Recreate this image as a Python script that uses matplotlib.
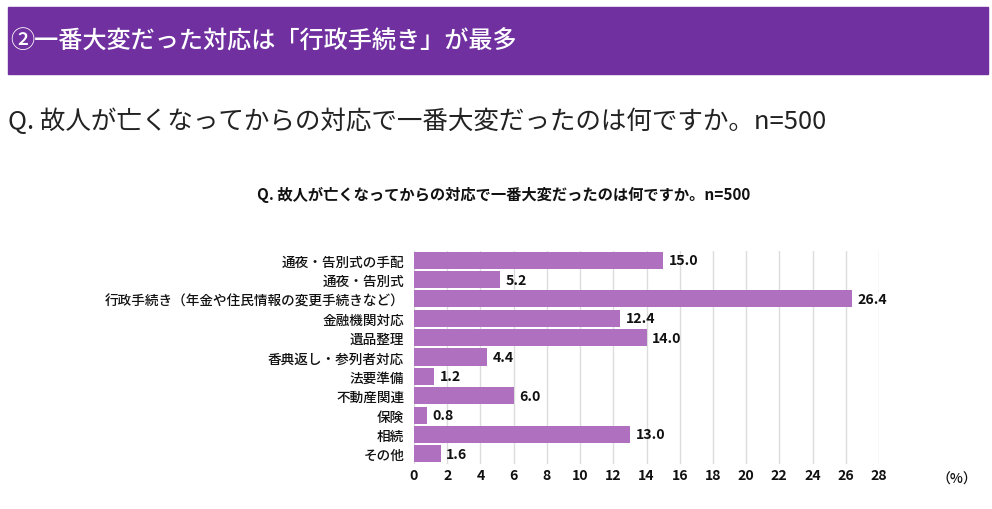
import matplotlib
matplotlib.use("Agg")
import matplotlib.pyplot as plt
from matplotlib.patches import Rectangle

plt.rcParams['font.family'] = ['Noto Sans CJK JP', 'DejaVu Sans']

# --- データ ---
banner_text = "②一番大変だった対応は「行政手続き」が最多"
question = "Q. 故人が亡くなってからの対応で一番大変だったのは何ですか。n=500"
categories = ["通夜・告別式の手配", "通夜・告別式",
              "行政手続き（年金や住民情報の変更手続きなど）", "金融機関対応",
              "遺品整理", "香典返し・参列者対応", "法要準備", "不動産関連",
              "保険", "相続", "その他"]
values = [15.0, 5.2, 26.4, 12.4, 14.0, 4.4, 1.2, 6.0, 0.8, 13.0, 1.6]
xticks = list(range(0, 30, 2))

W, H = 992, 510
fig = plt.figure(figsize=(W / 100, H / 100), dpi=100)

# 上の紫の帯
fig.patches.append(Rectangle((8 / W, 1 - 75 / H), 980 / W, 67 / H,
                             transform=fig.transFigure, color='#7030a0', zorder=0))
fig.text(10 / W, 1 - 42 / H, banner_text, color='white', fontsize=17.4,
         ha='left', va='center', weight='medium')

# 設問
fig.text(8 / W, 1 - 122 / H, question, color='#222222', fontsize=18.4,
         ha='left', va='center')

# グラフタイトル
fig.text(504 / W, 1 - 195 / H, question, color='#111111', fontsize=11,
         ha='center', va='center', weight='bold')

# --- 棒グラフ ---
ax = fig.add_axes([414 / W, 1 - 464.5 / H, 465 / W, 213 / H])
y = list(range(len(categories)))
ax.barh(y, values, height=0.88, color='#b070c0', zorder=2)
ax.set_ylim(len(categories) - 0.5, -0.5)
ax.set_xlim(0, 28)
ax.set_yticks(y)
ax.set_yticklabels(categories, fontsize=9.8, color='#111111', weight='medium')
ax.set_xticks(xticks)
ax.set_xticklabels([str(t) for t in xticks], fontsize=10.2, weight='bold', color='#111111')
ax.tick_params(axis='y', length=0, pad=7)
ax.tick_params(axis='x', length=0, pad=3.5)
ax.grid(axis='x', color='#dcdcdc', linewidth=1, zorder=0)
ax.set_axisbelow(True)
for s in ax.spines.values():
    s.set_visible(False)

for yi, v in zip(y, values):
    ax.annotate(f"{v:.1f}", (v, yi), xytext=(4, 0), textcoords='offset points',
                ha='left', va='center', fontsize=10.2, weight='bold', color='#111111')

fig.text(957 / W, 1 - 480 / H, "（%）", fontsize=10, ha='center', va='center',
         color='#111111', weight='medium')

fig.savefig("out.png", dpi=100)
